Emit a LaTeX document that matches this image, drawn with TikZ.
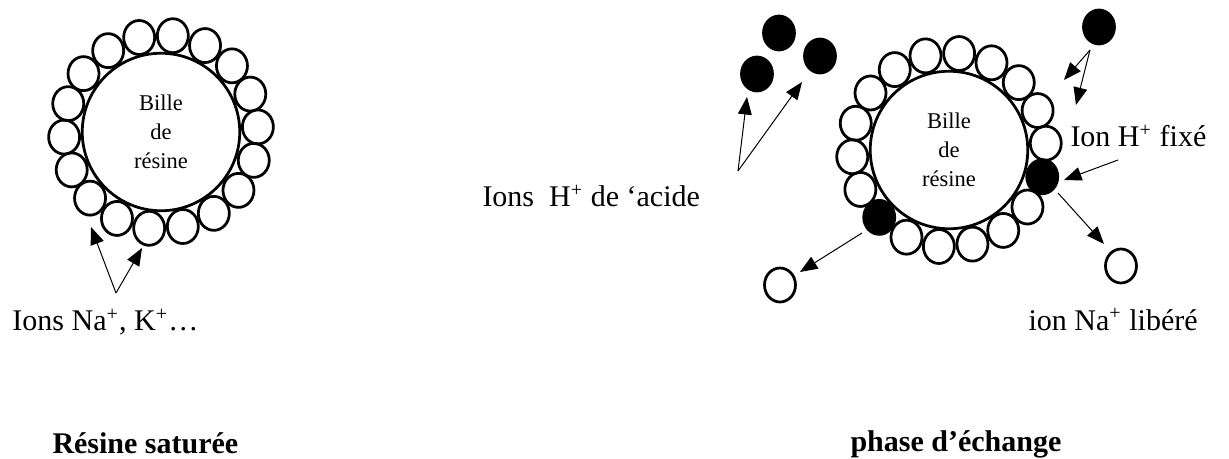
\documentclass[tikz,border=0pt]{standalone}
\usepackage{fontspec}
\setmainfont{Liberation Serif}
\usetikzlibrary{calc, positioning, shapes.geometric, arrows.meta}

\tikzset{
  ion/.style={draw, ellipse, line width=1.1pt, inner sep=0pt,
              minimum width=12.4pt, minimum height=13.6pt},
  hplus/.style={ion, fill=black},
  bille/.style={draw, circle, line width=1.1pt, minimum size=63pt,
                align=center, font=\fontsize{9}{11.6}\selectfont},
  fleche/.style={thin, -{Triangle[length=7pt,width=5.5pt]}},
  label/.style={inner sep=0pt, font=\fontsize{12}{14}\selectfont}
}

\begin{document}
\begin{tikzpicture}[x=0.4pt, y=0.4pt]
  \useasboundingbox (0,0) rectangle (1229,-459);

  % Saturated bead
  \node[bille] (b1) at (161,-132) {Bille\\de\\résine};
  \foreach \a [count=\i] in {3,23,...,343}
    \node[ion] (na\i) at ($(b1)+(\a:97)$) {};

  \coordinate (s1) at (116,-293);
  \coordinate (t1) at (91,-227);
  \coordinate (t2) at (142,-248);
  \draw[fleche] (s1) -- (t1);
  \draw[fleche] (s1) -- (t2);

  \node[label, anchor=base west] (lna) at (12,-331) {Ions Na\textsuperscript{+}, K\textsuperscript{+}…};
  \node[label, anchor=base west, font=\fontsize{12}{14}\selectfont\bfseries] (tsat) at (52,-453) {Résine saturée};

  % Bead during the exchange
  \node[bille] (b2) at (949,-150) {Bille\\de\\résine};
  \foreach \a [count=\i] in {4,24,...,204,244,264,...,324}
    \node[ion] (r\i) at ($(b2)+(\a:97)$) {};
  \node[hplus] (hf1) at ($(b2)+(224:97)$) {};
  \node[hplus] (hf2) at ($(b2)+(344:97)$) {};

  % H+ from the acid
  \node[hplus] (h1) at (779,-33) {};
  \node[hplus] (h2) at (757,-74) {};
  \node[hplus] (h3) at (820,-56) {};
  \node[hplus] (h4) at (1099,-27) {};

  % released Na+
  \node[ion] (n1) at (780,-285) {};
  \node[ion] (n2) at (1121,-266) {};

  \coordinate (s2) at (738,-171);
  \coordinate (t3) at (747,-97);
  \coordinate (t4) at (802,-82);
  \draw[fleche] (s2) -- (t3);
  \draw[fleche] (s2) -- (t4);

  \coordinate (s3) at (1090,-50);
  \coordinate (t5) at (1064,-80);
  \coordinate (t6) at (1076,-105);
  \draw[fleche] (s3) -- (t5);
  \draw[fleche] (s3) -- (t6);

  \coordinate (s4) at (1118,-160);
  \coordinate (t7) at (1064,-180);
  \draw[fleche] (s4) -- (t7);

  \coordinate (s5) at (1058,-193);
  \coordinate (t8) at (1104,-244);
  \draw[fleche] (s5) -- (t8);

  \coordinate (s6) at (862,-233);
  \coordinate (t9) at (800,-272);
  \draw[fleche] (s6) -- (t9);

  \node[label, anchor=base west] (lh) at (482,-207) {Ions\ \ H\textsuperscript{+} de ‘acide};
  \node[label, anchor=base west] (lfix) at (1070,-147) {Ion H\textsuperscript{+} fixé};
  \node[label, anchor=base west] (llib) at (1028,-330) {ion Na\textsuperscript{+} libéré};
  \node[label, anchor=base west, font=\fontsize{12}{14}\selectfont\bfseries] (tech) at (850,-452) {phase d’échange};
\end{tikzpicture}
\end{document}
